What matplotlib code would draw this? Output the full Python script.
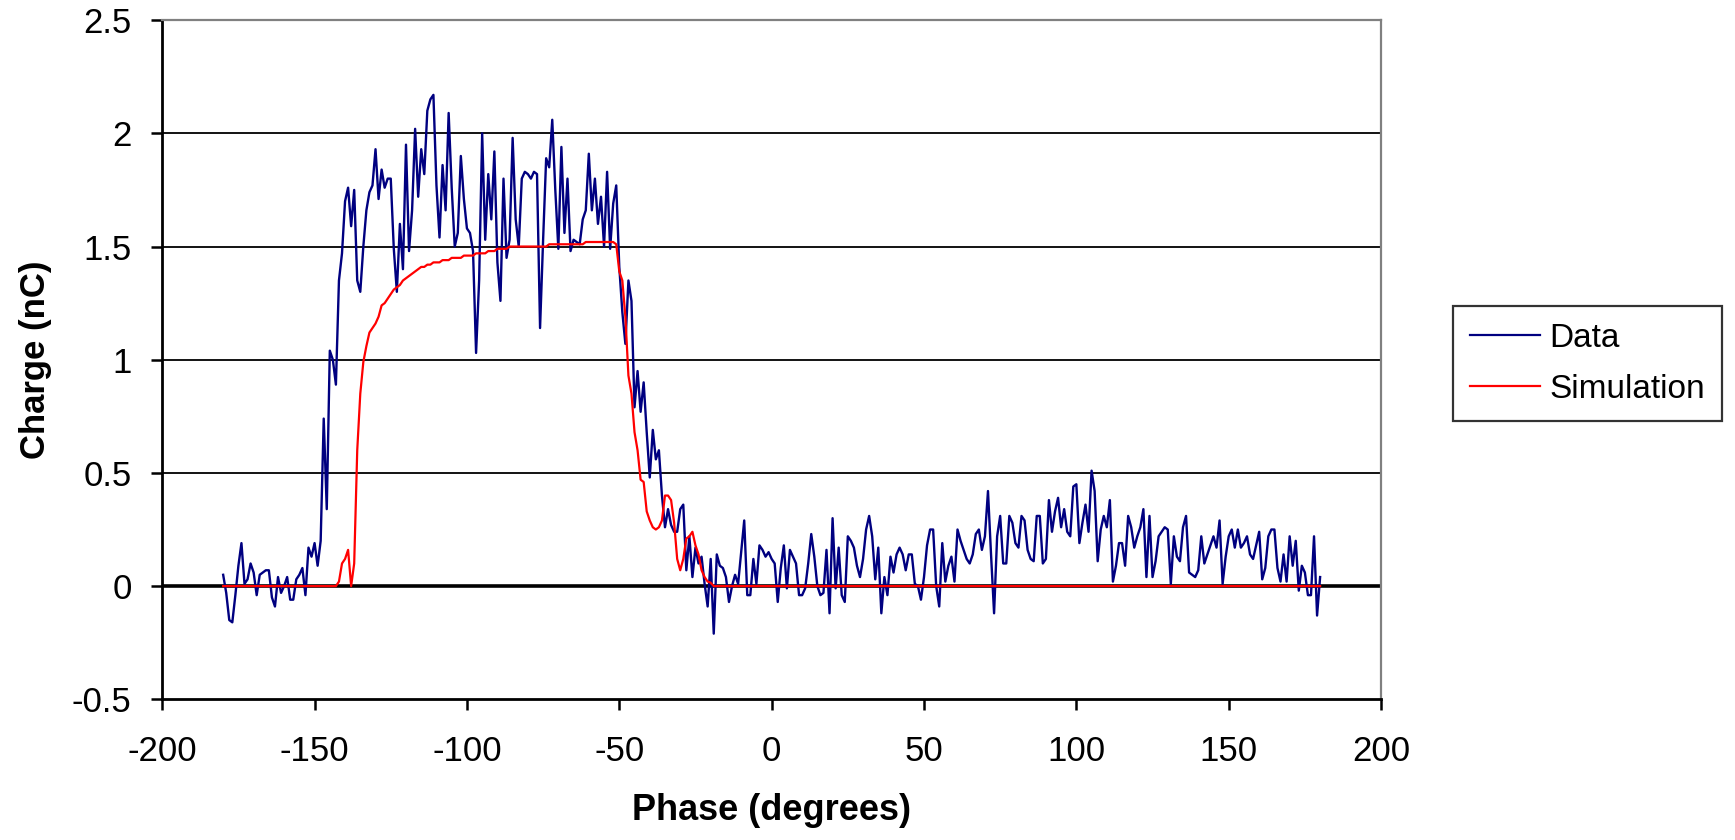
import numpy as np
import matplotlib
matplotlib.use("Agg")
import matplotlib.pyplot as plt

plt.rcParams["font.family"] = ["Liberation Sans", "DejaVu Sans"]
plt.rcParams["axes.unicode_minus"] = False

# measured charge, one value per degree from -180 to 180
charge_data = [
    0.05, -0.03, -0.15, -0.16, -0.04, 0.09, 0.19, 0.01, 0.03, 0.10,
    0.06, -0.04, 0.05, 0.06, 0.07, 0.07, -0.05, -0.09, 0.04, -0.03,
    0.00, 0.04, -0.06, -0.06, 0.03, 0.05, 0.08, -0.04, 0.17, 0.13,
    0.19, 0.09, 0.20, 0.74, 0.34, 1.04, 1.00, 0.89, 1.35, 1.47,
    1.70, 1.76, 1.59, 1.75, 1.35, 1.30, 1.50, 1.66, 1.74, 1.77,
    1.93, 1.71, 1.84, 1.76, 1.80, 1.80, 1.49, 1.30, 1.60, 1.40,
    1.95, 1.48, 1.66, 2.02, 1.72, 1.93, 1.82, 2.10, 2.15, 2.17,
    1.77, 1.54, 1.86, 1.66, 2.09, 1.76, 1.50, 1.56, 1.90, 1.71,
    1.58, 1.56, 1.48, 1.03, 1.35, 2.00, 1.53, 1.82, 1.62, 1.92,
    1.43, 1.26, 1.80, 1.45, 1.53, 1.98, 1.62, 1.50, 1.80, 1.83,
    1.82, 1.80, 1.83, 1.82, 1.14, 1.53, 1.89, 1.85, 2.06, 1.75,
    1.49, 1.94, 1.56, 1.80, 1.48, 1.53, 1.52, 1.51, 1.62, 1.66,
    1.91, 1.66, 1.80, 1.60, 1.72, 1.50, 1.83, 1.49, 1.69, 1.77,
    1.41, 1.21, 1.07, 1.35, 1.26, 0.79, 0.95, 0.77, 0.90, 0.68,
    0.48, 0.69, 0.56, 0.60, 0.40, 0.26, 0.34, 0.27, 0.24, 0.24,
    0.34, 0.36, 0.07, 0.22, 0.04, 0.17, 0.10, 0.13, 0.01, -0.09,
    0.12, -0.21, 0.14, 0.09, 0.08, 0.04, -0.07, 0.00, 0.05, 0.01,
    0.15, 0.29, -0.04, -0.04, 0.12, 0.01, 0.18, 0.16, 0.13, 0.15,
    0.12, 0.10, -0.07, 0.08, 0.18, -0.01, 0.16, 0.13, 0.10, -0.04,
    -0.04, -0.01, 0.10, 0.23, 0.13, 0.00, -0.04, -0.03, 0.16, -0.12,
    0.30, -0.01, 0.17, -0.04, -0.07, 0.22, 0.20, 0.17, 0.09, 0.04,
    0.12, 0.25, 0.31, 0.22, 0.03, 0.17, -0.12, 0.04, -0.04, 0.13,
    0.06, 0.14, 0.17, 0.14, 0.07, 0.14, 0.14, 0.01, 0.00, -0.06,
    0.04, 0.18, 0.25, 0.25, 0.00, -0.09, 0.19, 0.02, 0.09, 0.13,
    0.02, 0.25, 0.20, 0.16, 0.12, 0.10, 0.14, 0.23, 0.25, 0.16,
    0.22, 0.42, 0.14, -0.12, 0.22, 0.31, 0.10, 0.10, 0.31, 0.28,
    0.19, 0.17, 0.31, 0.29, 0.16, 0.12, 0.11, 0.31, 0.31, 0.10,
    0.12, 0.38, 0.24, 0.33, 0.39, 0.26, 0.34, 0.24, 0.22, 0.44,
    0.45, 0.19, 0.28, 0.36, 0.24, 0.51, 0.42, 0.11, 0.25, 0.31,
    0.26, 0.38, 0.02, 0.09, 0.19, 0.19, 0.09, 0.31, 0.26, 0.17,
    0.22, 0.26, 0.34, 0.04, 0.31, 0.04, 0.11, 0.22, 0.24, 0.26,
    0.25, 0.01, 0.22, 0.13, 0.11, 0.26, 0.31, 0.06, 0.05, 0.04,
    0.07, 0.22, 0.10, 0.14, 0.18, 0.22, 0.17, 0.29, 0.01, 0.13,
    0.22, 0.25, 0.17, 0.25, 0.17, 0.19, 0.22, 0.14, 0.12, 0.18,
    0.24, 0.03, 0.08, 0.22, 0.25, 0.25, 0.08, 0.02, 0.14, 0.02,
    0.22, 0.09, 0.20, -0.02, 0.09, 0.06, -0.04, -0.04, 0.22, -0.13,
    0.04,
]

# simulated charge on the same grid
charge_sim = (
    [0.0] * 38
    + [0.02, 0.10, 0.12, 0.16, 0.00, 0.10, 0.60, 0.85, 0.99, 1.06,
       1.12, 1.14, 1.16, 1.19, 1.24, 1.25, 1.27, 1.29, 1.31, 1.32,
       1.33, 1.35, 1.36, 1.37, 1.38, 1.39, 1.40, 1.41, 1.41, 1.42,
       1.42, 1.43, 1.43, 1.43, 1.44, 1.44, 1.44, 1.45, 1.45, 1.45,
       1.45, 1.46, 1.46, 1.46, 1.46, 1.47, 1.47, 1.47, 1.47, 1.48,
       1.48, 1.48, 1.49, 1.49, 1.49, 1.49, 1.50, 1.50, 1.50, 1.50,
       1.50, 1.50, 1.50, 1.50, 1.50, 1.50, 1.50, 1.50, 1.50, 1.51,
       1.51, 1.51, 1.51, 1.51, 1.51, 1.51, 1.51, 1.51, 1.51, 1.51,
       1.51, 1.52, 1.52, 1.52, 1.52, 1.52, 1.52, 1.52, 1.52, 1.52,
       1.52, 1.51, 1.39, 1.35, 1.19, 0.93, 0.85, 0.68, 0.60, 0.47,
       0.46, 0.33, 0.29, 0.26, 0.25, 0.26, 0.29, 0.40, 0.40, 0.38,
       0.28, 0.12, 0.07, 0.12, 0.21, 0.22, 0.24, 0.18, 0.14, 0.07,
       0.04, 0.02, 0.015, 0.0]
    + [0.0] * 199
)

phase = np.arange(-180, -180 + len(charge_data))
assert len(charge_sim) == len(charge_data)

x_ticks = [-200, -150, -100, -50, 0, 50, 100, 150, 200]
y_ticks = [-0.5, 0, 0.5, 1, 1.5, 2, 2.5]

fig = plt.figure(figsize=(17.35, 8.4), dpi=100)
ax = fig.add_axes([0.0935, 0.1675, 0.7025, 0.8085])

for y in y_ticks:
    if y == 0:
        ax.axhline(y, color="black", lw=2.6, zorder=1)
    elif y not in (-0.5, 2.5):
        ax.axhline(y, color="black", lw=1.3, zorder=1)

ax.plot(phase, charge_data, color="#000080", lw=1.7, label="Data", zorder=3)
ax.plot(phase, charge_sim, color="#FF0000", lw=1.6, label="Simulation", zorder=4)

ax.set_xlim(-200, 200)
ax.set_ylim(-0.5, 2.5)
ax.set_xticks(x_ticks)
ax.set_yticks(y_ticks)
ax.set_yticklabels(["-0.5", "0", "0.5", "1", "1.5", "2", "2.5"])

for s in ["top", "right"]:
    ax.spines[s].set_color("#808080")
    ax.spines[s].set_linewidth(1.6)
for s in ["left", "bottom"]:
    ax.spines[s].set_color("black")
    ax.spines[s].set_linewidth(2.0)

ax.tick_params(axis="both", direction="out", length=8, width=1.8, labelsize=25)
ax.tick_params(axis="y", pad=14)
ax.tick_params(axis="x", pad=18)

ax.set_xlabel("Phase (degrees)", fontsize=26, fontweight="bold", labelpad=18)
ax.set_ylabel("Charge (nC)", fontsize=25, fontweight="bold", labelpad=14)

leg = ax.legend(loc="upper left", bbox_to_anchor=(0.8375, 0.6357),
                bbox_transform=fig.transFigure, fontsize=24, frameon=True,
                fancybox=False, edgecolor="black", handlelength=2.1,
                handletextpad=0.3, borderpad=0.5, labelspacing=0.6,
                borderaxespad=0)
leg.get_frame().set_linewidth(1.6)
for line in leg.get_lines():
    line.set_linewidth(1.6)

fig.savefig("out.png", dpi=100, facecolor="white")
